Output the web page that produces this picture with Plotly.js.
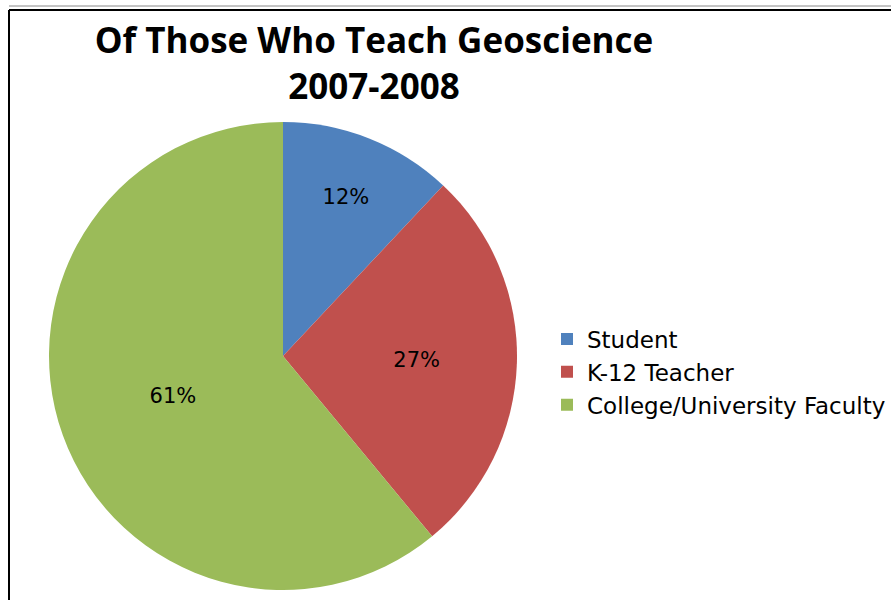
<!DOCTYPE html>
<html>
<head>
<meta charset="utf-8">
<script src="https://cdn.plot.ly/plotly-3.0.1.min.js"></script>
<style>html,body{margin:0;padding:0;background:#fff;}#chart{width:891px;height:600px;}</style>
</head>
<body>
<div id="chart"></div>
<script>
var categories = ["Student", "K-12 Teacher", "College/University Faculty"];
var shares = [12, 27, 61];
var sliceColors = ["#4F81BD", "#C0504D", "#9BBB59"];
var titleLines = ["Of Those Who Teach Geoscience", "2007-2008"];

var W = 891, H = 600;
function px(x){ return x / W; }
function py(y){ return 1 - y / H; }

var data = [{
  type: "pie",
  labels: categories,
  values: shares,
  sort: false,
  direction: "clockwise",
  rotation: 0,
  marker: {colors: sliceColors, line: {width: 0}},
  textinfo: "percent",
  textposition: "inside",
  insidetextorientation: "horizontal",
  textfont: {family: "DejaVu Sans", size: 21, color: "#000"},
  domain: {x: [px(49), px(517)], y: [py(590), py(122)]},
  hoverinfo: "label+percent"
}];

var layout = {
  width: W, height: H,
  margin: {l: 0, r: 0, t: 0, b: 0},
  paper_bgcolor: "#fff",
  showlegend: true,
  title: {
    text: "<b>" + titleLines.join("<br>") + "</b>",
    font: {family: "Open Sans", size: 35, color: "#000"},
    x: px(374), xanchor: "center", xref: "paper",
    y: py(53), yanchor: "top", yref: "paper"
  },
  legend: {
    x: px(547), xanchor: "left",
    y: py(372), yanchor: "middle",
    font: {family: "DejaVu Sans", size: 23, color: "#000"},
    bgcolor: "rgba(0,0,0,0)"
  },
  shapes: [
    {type: "line", xref: "paper", yref: "paper", x0: px(9), x1: 1.05, y0: py(6), y1: py(6), line: {color: "#888", width: 1}},
    {type: "line", xref: "paper", yref: "paper", x0: px(9), x1: 1.05, y0: py(10), y1: py(10), line: {color: "#000", width: 2}},
    {type: "line", xref: "paper", yref: "paper", x0: px(9), x1: px(9), y0: py(10), y1: -0.05, line: {color: "#000", width: 2}}
  ]
};

Plotly.newPlot("chart", data, layout, {displayModeBar: false, staticPlot: true});
</script>
</body>
</html>
